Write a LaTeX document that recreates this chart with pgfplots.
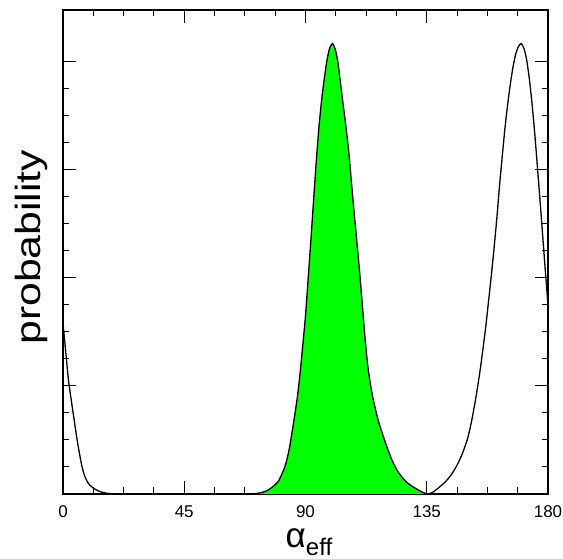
\documentclass[border=0pt]{standalone}
\usepackage{pgfplots}
\pgfplotsset{compat=1.18}
\usepackage{fontspec}
\setmainfont{Liberation Sans}
\definecolor{brightgreen}{RGB}{0,255,0}
\pgfplotstableread{
x y
65 0
70 0.002
72 0.006
74 0.015
76 0.035
78 0.07
80 0.12
82 0.23
83 0.31
84 0.42
85 0.57
86 0.73
87 0.90
88 1.12
89 1.38
90 1.65
91 2.00
92 2.35
93 2.72
94 3.08
95 3.40
96 3.65
97 3.85
98 4.02
99 4.13
100 4.17
101 4.12
102 4.00
103 3.80
104 3.60
105 3.40
106 3.18
107 2.90
108 2.62
109 2.35
110 2.08
111 1.78
112 1.47
113 1.21
114 1.03
115 0.89
116 0.78
117 0.68
118 0.60
120 0.45
122 0.32
124 0.22
126 0.15
128 0.10
130 0.065
132 0.035
134 0.01
135 0
}\greenpeak
\pgfplotstableread{
x y
0 1.58
1 1.32
2 1.06
3 0.88
4 0.71
5 0.54
6 0.39
7 0.26
8 0.17
9 0.115
10 0.08
11 0.06
12 0.043
13 0.03
14 0.02
16 0.008
18 0.002
20 0
40 0
68 0
}\leftpart
\pgfplotstableread{
x y
135 0
137 0.012
140 0.07
142 0.115
144 0.175
146 0.255
148 0.36
150 0.50
151 0.60
152 0.72
153 0.86
154 1.01
155 1.18
156 1.37
157 1.57
158 1.80
159 2.03
160 2.28
161 2.55
162 2.85
163 3.12
164 3.38
165 3.60
166 3.79
167 3.95
168 4.07
169 4.14
170 4.17
171 4.13
172 4.03
173 3.86
174 3.63
175 3.36
176 3.05
177 2.73
178 2.40
179 2.07
180 1.75
}\rightpeak
\begin{document}
\begin{tikzpicture}
\begin{axis}[
  scale only axis,
  width=485pt, height=484pt,
  xmin=0, xmax=180, ymin=0, ymax=4.48,
  xtick={0,45,90,135,180},
  minor x tick num=3,
  ytick={0,1,2,3,4},
  minor y tick num=3,
  yticklabels={},
  tick align=inside,
  major tick length=13pt,
  minor tick length=6.5pt,
  axis line style={line width=1.6pt},
  every tick/.style={black, line width=1pt},
  /pgf/number format/assume math mode=true,
  xticklabel style={font=\fontsize{17}{17}\selectfont, yshift=-8pt},
  xlabel={\fontsize{35}{35}\selectfont α\raisebox{-7.5pt}{\fontsize{24}{24}\selectfont eff}},
  xlabel style={at={(axis description cs:0.4588,0)}, anchor=base west, inner sep=0pt, yshift=-54pt},
  ylabel={\scalebox{1.22}[1]{\fontsize{35}{35}\selectfont probability}},
  ylabel style={at={(axis description cs:-0.066,0.51)}, anchor=center, inner sep=0pt},
]
\addplot[draw=none, fill=brightgreen, smooth, tension=0.4] table {\greenpeak} \closedcycle;
\addplot[black, line width=1.3pt, smooth, tension=0.4] table {\leftpart};
\addplot[black, line width=1.3pt, smooth, tension=0.4] table {\greenpeak};
\addplot[black, line width=1.3pt, smooth, tension=0.4] table {\rightpeak};
\end{axis}
\pgfresetboundingbox
\useasboundingbox ([shift={(-63pt,-65pt)}]current axis.south west) rectangle ([shift={(15pt,10pt)}]current axis.north east);
\end{tikzpicture}
\end{document}
